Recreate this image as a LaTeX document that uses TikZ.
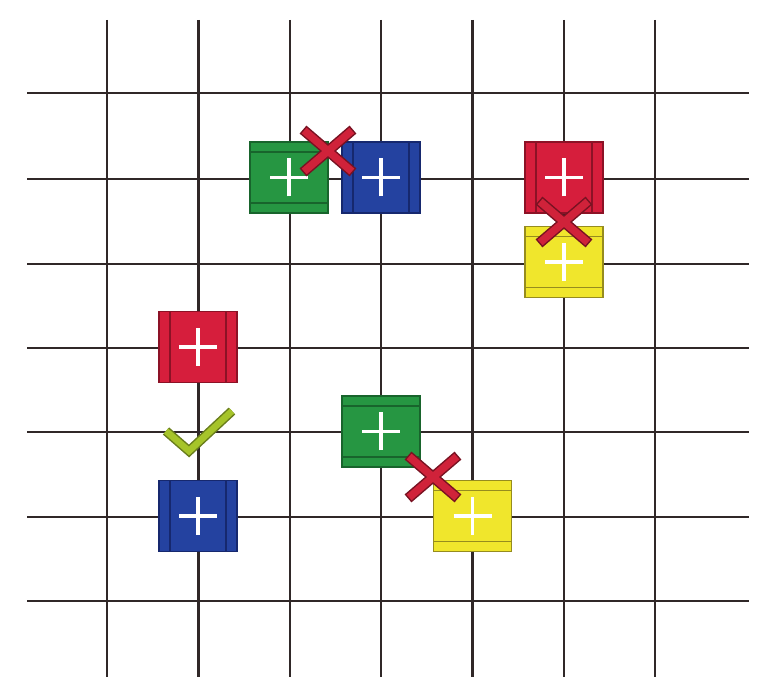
\documentclass[tikz,border=0pt]{standalone}
\usepackage{tikz}
\usetikzlibrary{positioning}
\definecolor{tgreen}{RGB}{38,150,66}
\definecolor{tgreenD}{RGB}{24,100,44}
\definecolor{tblue}{RGB}{36,66,160}
\definecolor{tblueD}{RGB}{22,40,110}
\definecolor{tred}{RGB}{214,30,60}
\definecolor{tredD}{RGB}{140,18,38}
\definecolor{tyellow}{RGB}{240,230,44}
\definecolor{tyellowD}{RGB}{150,140,30}
\definecolor{xred}{RGB}{208,34,58}
\definecolor{xredD}{RGB}{120,18,34}
\definecolor{okgreen}{RGB}{166,196,42}
\definecolor{okgreenD}{RGB}{105,125,28}
\definecolor{gridline}{RGB}{48,40,40}

\begin{document}
\begin{tikzpicture}[
  x=1pt, y=-1pt,
  gridln/.style={gridline, line width=2.6pt},
  tile/.style={draw, line width=1.4pt, minimum width=78pt, minimum height=71pt,
    inner sep=0pt},
  vtile/.style={tile, fill=#1, draw=#1D, path picture={
    \draw[#1D, line width=1.1pt]
      ([xshift=11pt]path picture bounding box.north west) --
      ([xshift=11pt]path picture bounding box.south west)
      ([xshift=-11pt]path picture bounding box.north east) --
      ([xshift=-11pt]path picture bounding box.south east);
    \draw[white, line width=3.8pt]
      ([xshift=-19pt]path picture bounding box.center) --
      ([xshift=19pt]path picture bounding box.center)
      ([yshift=-19pt]path picture bounding box.center) --
      ([yshift=19pt]path picture bounding box.center);}},
  htile/.style={tile, fill=#1, draw=#1D, path picture={
    \draw[#1D, line width=1.1pt]
      ([yshift=-10pt]path picture bounding box.north west) --
      ([yshift=-10pt]path picture bounding box.north east)
      ([yshift=10pt]path picture bounding box.south west) --
      ([yshift=10pt]path picture bounding box.south east);
    \draw[white, line width=3.8pt]
      ([xshift=-19pt]path picture bounding box.center) --
      ([xshift=19pt]path picture bounding box.center)
      ([yshift=-19pt]path picture bounding box.center) --
      ([yshift=19pt]path picture bounding box.center);}},
  redtile/.style={vtile=tred},
  bluetile/.style={vtile=tblue},
  greentile/.style={htile=tgreen},
  yellowtile/.style={htile=tyellow},
  xmark/.pic={
    \draw[xredD, line width=10.5pt, line cap=rect] (-21,-18) -- (21,18) (-21,18) -- (21,-18);
    \draw[xred, line width=7.5pt, line cap=rect] (-21,-18) -- (21,18) (-21,18) -- (21,-18);
  },
  okmark/.pic={
    \draw[okgreenD, line width=9.5pt, line join=miter] (-33,0) -- (-10,20) -- (33,-20);
    \draw[okgreen, line width=6.5pt, line join=miter] (-33,0) -- (-10,20) -- (33,-20);
  },
]
\useasboundingbox (0,0) rectangle (761,684);

%% grid
\foreach \gx in {107,198.5,290,381,472.5,564,655}
  \draw[gridln] (\gx,20) -- (\gx,677);
\foreach \gy in {93,179,264,348,432,517,601}
  \draw[gridln] (27,\gy) -- (749,\gy);

%% tiles
\node[greentile] (g1) at (289,177.5) {};
\node[bluetile] (b1) at (381,177.5) {};
\node[redtile] (r1) at (564,177.5) {};
\node[yellowtile] (y1) at (564,262) {};
\node[redtile] (r2) at (198,347) {};
\node[bluetile] (b2) at (198,516) {};
\node[greentile] (g2) at (381,431.5) {};
\node[yellowtile] (y2) at (472.5,516) {};

%% conflicts and the allowed pair
\pic at (328,151) {xmark};
\pic at (564,222) {xmark};
\pic at (433,477) {xmark};
\pic at (199,431) {okmark};

\end{tikzpicture}
\end{document}
